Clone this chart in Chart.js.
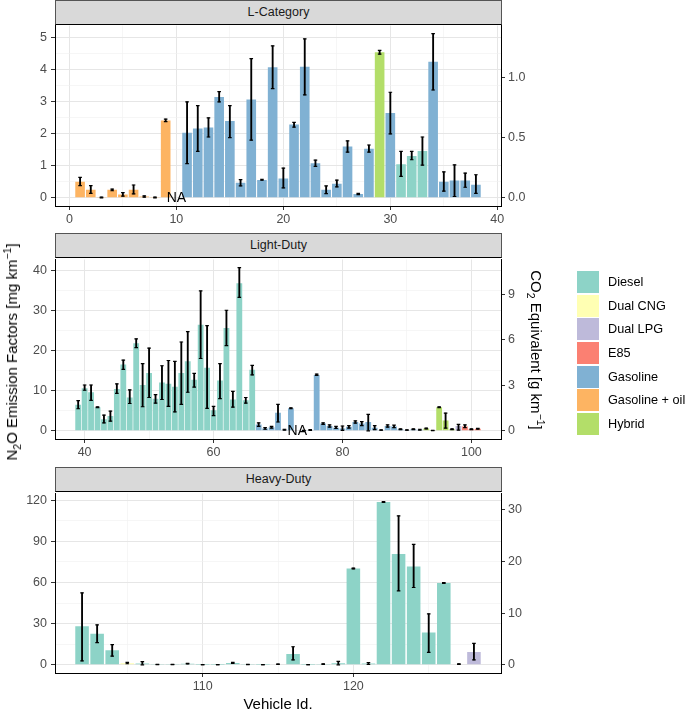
<!DOCTYPE html>
<html>
<head>
<meta charset="utf-8">
<script src="https://cdn.jsdelivr.net/npm/chart.js@4.4.1/dist/chart.umd.min.js"></script>
<style>
  body { margin: 0; width: 685px; height: 710px; position: relative; background: #fff; overflow: hidden;
         font-family: "Liberation Sans", Arial, Helvetica, sans-serif; }
  canvas { position: absolute; left: 0; }
  .strip { position: absolute; left: 55px; width: 447px; height: 25px; box-sizing: border-box;
           background: #d9d9d9; border: 1px solid #555; border-bottom-color: #000;
           text-align: center; font-size: 12.5px; line-height: 23px; color: #1a1a1a; }
  .title { position: absolute; font-size: 15px; color: #000; white-space: nowrap; }
  .title sub, .title sup { font-size: 10.5px; }
  #legend { position: absolute; left: 577px; top: 270px; width: 108px; }
  .row { height: 23.7px; display: flex; align-items: center; font-size: 12.7px; color: #000; white-space: nowrap; }
  .key { width: 22px; height: 22px; margin-right: 9px; flex: none; }
</style>
</head>
<body>
<div class="strip" style="top:0px">L-Category</div>
<div class="strip" style="top:233px">Light-Duty</div>
<div class="strip" style="top:467px">Heavy-Duty</div>
<canvas id="lcat" width="560" height="214" style="top:14px"></canvas>
<canvas id="light" width="560" height="213" style="top:248px"></canvas>
<canvas id="heavy" width="560" height="213" style="top:482px"></canvas>
<div class="title" style="left:12px;top:352px;transform:translate(-50%,-50%) rotate(-90deg)">N<sub>2</sub>O Emission Factors [mg km<sup>−1</sup>]</div>
<div class="title" style="left:536px;top:350px;transform:translate(-50%,-50%) rotate(90deg)">CO<sub>2</sub> Equivalent [g km<sup>−1</sup>]</div>
<div class="title" style="left:278px;top:703px;transform:translate(-50%,-50%)">Vehicle Id.</div>
<div id="legend"></div>
<script>
// fuel types (legend order) and Set3 colours
const fuelCodes = ['D', 'C', 'L', 'E', 'G', 'O', 'H'];
const fuelNames = ['Diesel', 'Dual CNG', 'Dual LPG', 'E85', 'Gasoline', 'Gasoline + oil', 'Hybrid'];
const fuelColors = ['#8DD3C7', '#FFFFB3', '#BEBADA', '#FB8072', '#80B1D3', '#FDB462', '#B3DE69'];
const GWP_N2O = 265; // mg N2O -> g CO2eq

// L-Category (vehicle 10 = NA)
const lIds = [1, 2, 3, 4, 5, 6, 7, 8, 9, 11, 12, 13, 14, 15, 16, 17, 18, 19, 20, 21, 22, 23, 24, 25, 26, 27, 28, 29, 30, 31, 32, 33, 34, 35, 36, 37, 38];
const lFuel = ['O', 'O', 'O', 'O', 'O', 'O', 'O', 'O', 'O', 'G', 'G', 'G', 'G', 'G', 'G', 'G', 'G', 'G', 'G', 'G', 'G', 'G', 'G', 'G', 'G', 'G', 'G', 'H', 'G', 'D', 'D', 'D', 'G', 'G', 'G', 'G', 'G'];
const lN2O = [0.50, 0.25, 0.01, 0.25, 0.10, 0.25, 0.04, 0.01, 2.42, 2.03, 2.17, 2.20, 3.15, 2.40, 0.47, 3.07, 0.56, 4.08, 0.60, 2.29, 4.10, 1.08, 0.25, 0.44, 1.60, 0.12, 1.53, 4.55, 2.65, 1.05, 1.31, 1.46, 4.25, 0.50, 0.54, 0.54, 0.41];
const lLow = [0.38, 0.14, 0.00, 0.22, 0.05, 0.12, 0.02, 0.00, 2.38, 1.07, 1.45, 1.90, 3.00, 1.88, 0.37, 1.80, 0.55, 3.41, 0.31, 2.21, 3.22, 0.98, 0.13, 0.34, 1.43, 0.10, 1.43, 4.49, 2.00, 0.67, 1.19, 1.02, 3.37, 0.21, 0.04, 0.33, 0.14];
const lHigh = [0.64, 0.38, 0.02, 0.27, 0.16, 0.40, 0.06, 0.02, 2.46, 3.00, 2.88, 2.50, 3.32, 2.88, 0.57, 4.35, 0.58, 4.75, 0.93, 2.36, 4.97, 1.18, 0.37, 0.55, 1.78, 0.14, 1.65, 4.61, 3.30, 1.45, 1.45, 1.90, 5.13, 0.81, 1.03, 0.77, 0.72];
const lNA = [10];

// Light-Duty (vehicle 73 = NA)
const mIds = [39, 40, 41, 42, 43, 44, 45, 46, 47, 48, 49, 50, 51, 52, 53, 54, 55, 56, 57, 58, 59, 60, 61, 62, 63, 64, 65, 66, 67, 68, 69, 70, 71, 72,
  74, 75, 76, 77, 78, 79, 80, 81, 82, 83, 84, 85, 86, 87, 88, 89, 90, 91, 92, 93, 94, 95, 96, 97, 98, 99, 100, 101];
const mFuel = ['D', 'D', 'D', 'D', 'D', 'D', 'D', 'D', 'D', 'D', 'D', 'D', 'D', 'D', 'D', 'D', 'D', 'D', 'D', 'D', 'D', 'D', 'D', 'D', 'D', 'D', 'D', 'D', 'G', 'G', 'G', 'G', 'G', 'G',
  'G', 'G', 'G', 'G', 'G', 'G', 'G', 'G', 'G', 'G', 'G', 'G', 'G', 'G', 'G', 'G', 'G', 'G', 'G', 'H', 'H', 'H', 'H', 'H', 'L', 'E', 'E', 'E'];
const mN2O = [6.5, 10.6, 9.6, 5.9, 2.9, 3.7, 10.4, 16.5, 8.3, 21.8, 11.4, 14.4, 8.0, 12.0, 11.7, 11.0, 14.4, 17.3, 12.7, 26.4, 15.7, 5.1, 12.5, 25.6, 7.8, 36.7, 7.6, 15.2, 1.6, 0.6, 0.9, 4.5, 0.3, 5.6,
  0.1, 0.2, 13.9, 1.8, 1.2, 0.8, 0.6, 1.0, 2.2, 1.8, 2.2, 0.8, 0.2, 1.2, 1.1, 0.4, 0.2, 0.4, 0.3, 0.6, 0.1, 5.9, 2.6, 0.4, 1.2, 1.1, 0.4, 0.5];
const mLow = [5.5, 10.1, 7.6, 5.8, 2.0, 2.4, 9.3, 15.3, 6.8, 20.7, 6.0, 8.3, 6.9, 7.8, 6.1, 4.7, 6.6, 9.6, 10.9, 18.0, 5.6, 3.8, 8.0, 21.2, 5.9, 33.2, 6.9, 13.9, 1.1, 0.4, 0.7, 2.2, 0.2, 5.5,
  0.05, 0.1, 13.8, 1.6, 0.9, 0.6, 0.1, 0.7, 1.9, 1.3, 0.0, 0.3, 0.15, 0.9, 0.8, 0.3, 0.15, 0.3, 0.2, 0.5, 0.05, 5.8, 0.7, 0.3, 0.2, 0.8, 0.3, 0.4];
const mHigh = [7.5, 11.4, 11.4, 6.0, 3.9, 4.9, 11.7, 17.6, 10.2, 22.9, 16.7, 20.6, 9.0, 16.2, 17.5, 17.3, 22.1, 24.7, 14.3, 34.8, 26.2, 6.1, 16.7, 30.0, 9.8, 40.6, 8.3, 16.3, 2.0, 0.8, 1.1, 6.6, 0.4, 5.7,
  0.15, 0.3, 14.1, 2.0, 1.5, 1.1, 1.2, 1.3, 2.5, 2.3, 4.1, 1.3, 0.25, 1.5, 1.4, 0.5, 0.25, 0.5, 0.4, 0.7, 0.15, 6.0, 4.4, 0.5, 1.6, 1.5, 0.5, 0.6];
const mNA = [73];

// Heavy-Duty
const hIds = [102, 103, 104, 105, 106, 107, 108, 109, 110, 111, 112, 113, 114, 115, 116, 117, 118, 119, 120, 121, 122, 123, 124, 125, 126, 127, 128];
const hFuel = ['D', 'D', 'D', 'C', 'D', 'D', 'D', 'D', 'D', 'D', 'D', 'D', 'D', 'D', 'D', 'D', 'D', 'D', 'D', 'D', 'D', 'D', 'D', 'D', 'D', 'C', 'L'];
const hN2O = [28.2, 22.7, 10.7, 1.2, 1.0, 0.2, 0.2, 0.8, 0.1, 0.1, 1.4, 0.2, 0.1, 0.5, 7.9, 0.1, 0.6, 1.2, 70.3, 1.0, 118.7, 80.8, 71.7, 23.5, 59.7, 0.5, 9.4];
const hLow = [2.9, 16.2, 6.4, 0.8, 0.0, 0.1, 0.1, 0.6, 0.05, 0.05, 1.0, 0.1, 0.05, 0.4, 3.6, 0.05, 0.4, 0.0, 70.0, 0.3, 118.4, 54.0, 56.4, 9.1, 59.4, 0.3, 3.6];
const hHigh = [52.5, 29.1, 14.8, 1.8, 2.4, 0.3, 0.3, 1.0, 0.15, 0.15, 1.8, 0.3, 0.15, 0.6, 13.2, 0.15, 0.8, 2.6, 70.6, 1.7, 119.0, 108.6, 87.8, 37.2, 60.0, 0.7, 15.6];
const hNA = [];

// axis breaks
const lXMajor = [0, 10, 20, 30, 40], lXMinor = [5, 15, 25, 35];
const mXMajor = [40, 60, 80, 100], mXMinor = [50, 70, 90];
const hXMajor = [110, 120], hXMinor = [105, 115, 125];
const lYMajor = [0, 1, 2, 3, 4, 5], lYMinor = [0.5, 1.5, 2.5, 3.5, 4.5];
const mYMajor = [0, 10, 20, 30, 40], mYMinor = [5, 15, 25, 35];
const hYMajor = [0, 30, 60, 90, 120], hYMinor = [15, 45, 75, 105];
const lY2 = [0, 0.5, 1.0], mY2 = [0, 3, 6, 9], hY2 = [0, 10, 20, 30];

Chart.defaults.font.family = '"Liberation Sans", Arial, sans-serif';

const tickFont = { size: 12.5 };
const tickColor = '#4d4d4d';

const naLabels = {
  id: 'naLabels',
  afterDatasetsDraw(chart, args, opts) {
    const { ctx, scales: { x, y } } = chart;
    ctx.save();
    ctx.font = '14px "Liberation Sans", Arial, sans-serif';
    ctx.fillStyle = '#000';
    ctx.textAlign = 'center';
    ctx.textBaseline = 'middle';
    (opts.ids || []).forEach(id => ctx.fillText('NA', x.getPixelForValue(id), y.getPixelForValue(0)));
    ctx.restore();
  }
};

const breaks = (major, minor) => scale => {
  scale.ticks = [...major, ...minor].sort((a, b) => a - b).map(value => ({ value }));
};

const gridOpts = (major, extra) => Object.assign({
  color: c => major.includes(c.tick.value) ? '#e6e6e6' : '#f0f0f0',
  lineWidth: c => major.includes(c.tick.value) ? 1 : 0.6,
  tickLength: 4,
  tickWidth: 1,
  tickColor: c => major.includes(c.tick.value) ? '#333' : 'rgba(0,0,0,0)'
}, extra || {});

const makePanel = (canvasId, ids, fuel, n2o, low, high, naIds, xMajor, xMinor, yMajor, yMinor, y2Ticks, y2Fmt) => {
  const xLo = Math.min(...ids, ...naIds) - 0.45, xHi = Math.max(...ids, ...naIds) + 0.45;
  const yHi = Math.max(...high);
  const xPad = (xHi - xLo) * 0.05, yPad = yHi * 0.05;
  const yMin = -yPad, yMax = yHi + yPad;
  const k = GWP_N2O / 1000;

  return new Chart(document.getElementById(canvasId), {
    type: 'bar',
    data: {
      datasets: [
        {
          type: 'bar',
          data: ids.map((x, i) => ({ x, y: n2o[i] })),
          backgroundColor: fuel.map(f => fuelColors[fuelCodes.indexOf(f)]),
          borderWidth: 0,
          barPercentage: 1,
          categoryPercentage: 0.9,
          order: 3
        },
        {
          type: 'bar',
          data: ids.map((x, i) => ({ x, y: [low[i], high[i]] })),
          backgroundColor: '#000',
          borderWidth: 0,
          barThickness: 1.2,
          grouped: false,
          order: 2
        },
        {
          type: 'line',
          data: ids.flatMap((x, i) => [{ x, y: low[i] }, { x, y: high[i] }]),
          showLine: false,
          pointStyle: 'line',
          pointRadius: 1.8,
          pointBorderWidth: 1.2,
          pointBorderColor: '#000',
          pointBackgroundColor: '#000',
          order: 1
        }
      ]
    },
    options: {
      responsive: false,
      animation: false,
      events: [],
      layout: { padding: { top: 10, left: 0, right: 0, bottom: 0 } },
      plugins: { legend: { display: false }, tooltip: { enabled: false }, naLabels: { ids: naIds } },
      scales: {
        x: {
          type: 'linear',
          offset: false,
          min: xLo - xPad,
          max: xHi + xPad,
          afterBuildTicks: breaks(xMajor, xMinor),
          afterFit: s => { s.height = 22; },
          grid: gridOpts(xMajor, { offset: false }),
          border: { color: '#000', width: 1 },
          ticks: { autoSkip: false, maxRotation: 0, padding: 2, color: tickColor, font: tickFont,
                   callback: v => xMajor.includes(v) ? String(v) : '' }
        },
        y: {
          type: 'linear',
          position: 'left',
          min: yMin,
          max: yMax,
          afterBuildTicks: breaks(yMajor, yMinor),
          afterFit: s => { s.width = 55; },
          grid: gridOpts(yMajor),
          border: { color: '#000', width: 1 },
          ticks: { autoSkip: false, padding: 4, color: tickColor, font: tickFont,
                   callback: v => yMajor.includes(v) ? String(v) : '' }
        },
        y2: {
          type: 'linear',
          position: 'right',
          min: yMin * k,
          max: yMax * k,
          afterBuildTicks: breaks(y2Ticks, []),
          afterFit: s => { s.width = 59; },
          grid: { drawOnChartArea: false, tickLength: 4, tickColor: '#333' },
          border: { color: '#000', width: 1 },
          ticks: { autoSkip: false, padding: 3, color: tickColor, font: tickFont, callback: y2Fmt }
        }
      }
    },
    plugins: [naLabels]
  });
};

makePanel('lcat', lIds, lFuel, lN2O, lLow, lHigh, lNA, lXMajor, lXMinor, lYMajor, lYMinor, lY2, v => v.toFixed(1));
makePanel('light', mIds, mFuel, mN2O, mLow, mHigh, mNA, mXMajor, mXMinor, mYMajor, mYMinor, mY2, v => String(v));
makePanel('heavy', hIds, hFuel, hN2O, hLow, hHigh, hNA, hXMajor, hXMinor, hYMajor, hYMinor, hY2, v => String(v));

// legend
const legend = document.getElementById('legend');
fuelNames.forEach((name, i) => {
  const row = document.createElement('div');
  row.className = 'row';
  const key = document.createElement('div');
  key.className = 'key';
  key.style.background = fuelColors[i];
  const label = document.createElement('span');
  label.textContent = name;
  row.append(key, label);
  legend.append(row);
});
</script>
</body>
</html>
